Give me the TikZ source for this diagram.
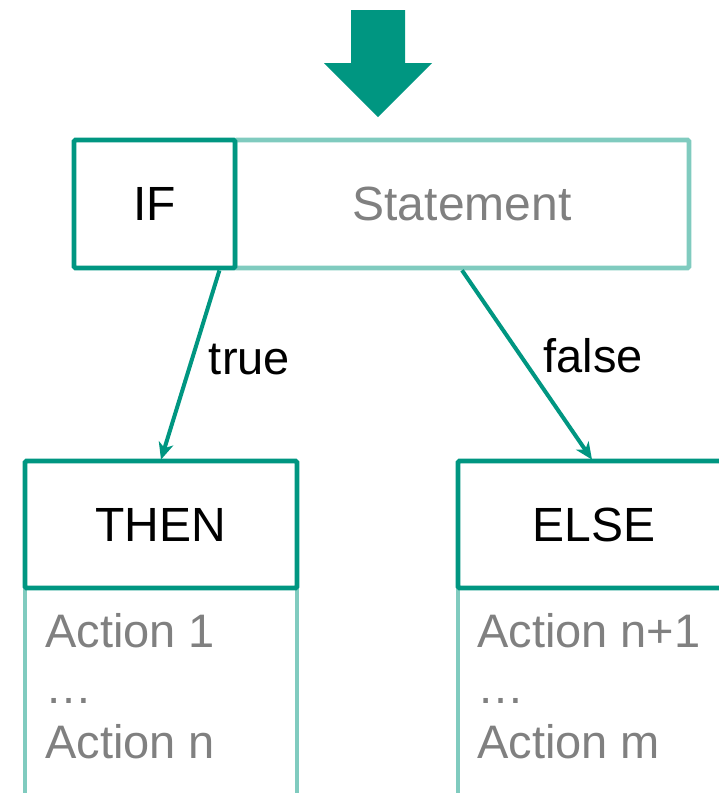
\documentclass[tikz,border=0pt]{standalone}
\usepackage{fontspec}
\setmainfont{Liberation Sans}
\usetikzlibrary{arrows.meta}
\definecolor{tealdark}{HTML}{009681}
\definecolor{teallight}{HTML}{80CBBF}
\definecolor{txtgray}{HTML}{808080}
\tikzset{
  darkbox/.style={draw=tealdark, line width=4.8pt, rounded corners=1.5pt, fill=white, inner sep=0pt, minimum width=272pt, minimum height=127pt, font=\fontsize{48}{56}\selectfont},
  lightline/.style={draw=teallight, line width=4.6pt},
  conn/.style={draw=tealdark, line width=4pt, -{Stealth[length=17pt,width=15pt,inset=5pt]}},
  actiontxt/.style={anchor=base west, inner sep=0pt, text=txtgray, font=\fontsize{47}{56}\selectfont},
  lbl/.style={inner sep=0pt, font=\fontsize{47}{56}\selectfont}
}
\begin{document}
\begin{tikzpicture}[x=1pt,y=-1pt]
\useasboundingbox (0,0) rectangle (718,793);
% top arrow
\fill[tealdark] (351,10) -- (405,10) -- (405,63) -- (432,63) -- (378,117) -- (324,63) -- (351,63) -- cycle;
% statement box
\node[draw=teallight, line width=4.6pt, rounded corners=1.5pt, minimum width=454pt, minimum height=128pt, inner sep=0pt,
      text=txtgray, font=\fontsize{48}{56}\selectfont] (stmt) at (462,204) {Statement};
% IF box
\node[darkbox, minimum width=161pt, minimum height=128pt] (ifb) at (154.5,204) {IF};
% light side lines
\coordinate (l1) at (25,580);
\coordinate (l2) at (297,580);
\coordinate (l3) at (458,580);
\draw[lightline] (l1) -- ++(0,220);
\draw[lightline] (l2) -- ++(0,220);
\draw[lightline] (l3) -- ++(0,220);
% THEN and ELSE boxes
\node[darkbox] (then) at (161,524.5) {THEN};
\node[darkbox] (else) at (594,524.5) {ELSE};
% connectors
\draw[conn] ([xshift=-18pt]ifb.south east) -- ([yshift=-1pt]then.north) node[pos=0.47, lbl, anchor=west, xshift=15pt] (tl) {true};
\draw[conn] (stmt.south) -- ([xshift=-2pt,yshift=-1pt]else.north) node[pos=0.45, lbl, anchor=west, xshift=21pt] (fl) {false};
% actions
\node[actiontxt] (a1) at (45,647) {Action 1};
\node[actiontxt] (d1) at (45,703) {…};
\node[actiontxt] (an) at (45,758) {Action n};
\node[actiontxt] (b1) at (477,647) {Action n+1};
\node[actiontxt] (d2) at (477,703) {…};
\node[actiontxt] (bm) at (477,758) {Action m};
\end{tikzpicture}
\end{document}
